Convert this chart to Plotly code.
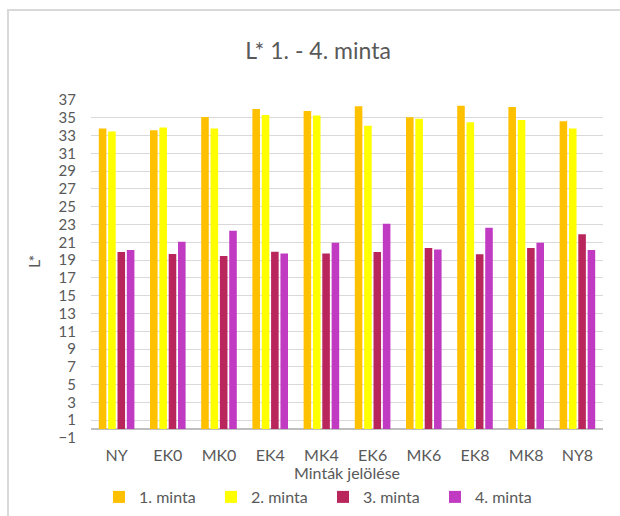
import plotly.graph_objects as go

categories = ["NY", "EK0", "MK0", "EK4", "MK4", "EK6", "MK6", "EK8", "MK8", "NY8"]
minta1 = [33.8, 33.6, 35.1, 36.0, 35.75, 36.3, 35.05, 36.35, 36.2, 34.6]
minta2 = [33.45, 33.9, 33.8, 35.3, 35.25, 34.1, 34.9, 34.5, 34.75, 33.8]
minta3 = [19.9, 19.7, 19.45, 19.95, 19.75, 19.9, 20.35, 19.65, 20.35, 21.9]
minta4 = [20.15, 21.05, 22.3, 19.75, 20.95, 23.1, 20.2, 22.65, 20.95, 20.15]
series_names = ["1. minta", "2. minta", "3. minta", "4. minta"]
colors = ["#FFC000", "#FFFF00", "#B8265C", "#C03BC2"]

FONT = "Lato"
TXT = "#595959"

fig = go.Figure()
for name, vals, col in zip(series_names, [minta1, minta2, minta3, minta4], colors):
    fig.add_trace(go.Bar(x=categories, y=vals, name=name,
                         marker=dict(color=col, line=dict(width=0))))

L, R, T, B = 91, 17, 100, 78
fig.update_layout(
    width=620, height=516,
    margin=dict(l=L, r=R, t=T, b=B, autoexpand=False),
    paper_bgcolor="white", plot_bgcolor="white",
    barmode="group", bargap=0.27, bargroupgap=0.19,
    font=dict(family=FONT, color=TXT, size=14),
    title=dict(text="L* 1. - 4. minta", x=318 / 620, xanchor="center",
               y=1 - 51 / 516, yanchor="middle",
               font=dict(family=FONT, size=23, color=TXT)),
    showlegend=True,
    legend=dict(orientation="h", x=(99 - L) / 512, xanchor="left",
                y=(438 - 497) / 338, yanchor="middle",
                font=dict(family=FONT, size=16, color=TXT),
                entrywidth=67, entrywidthmode="pixels",
                itemwidth=30, tracegroupgap=0, traceorder="normal"),
)
fig.update_yaxes(range=[-1, 37], tick0=-1, dtick=2, showgrid=True,
                 gridcolor="#d9d9d9", gridwidth=1,
                 zeroline=True, zerolinecolor="#bfbfbf", zerolinewidth=2,
                 showline=False, ticks="", ticklabelstandoff=14,
                 tickfont=dict(family=FONT, size=15, color=TXT))
fig.update_xaxes(showline=False, ticks="", showgrid=False,
                 ticklabelstandoff=6,
                 tickfont=dict(family=FONT, size=16, color=TXT))

fig.add_annotation(text="Minták jelölése", xref="paper", yref="paper",
                   x=0.5, y=(438 - 472) / 338, xanchor="center", yanchor="middle",
                   showarrow=False, font=dict(family=FONT, size=16, color=TXT))
fig.add_annotation(text="L*", xref="paper", yref="paper", textangle=-90,
                   x=(33 - L) / 512, y=(438 - 262) / 338, xanchor="center",
                   yanchor="middle", showarrow=False,
                   font=dict(family=FONT, size=16, color=TXT))

fig.add_shape(type="rect", xref="paper", yref="paper",
              x0=(8 - L) / 512, x1=(640 - L) / 512,
              y0=(438 - 540) / 338, y1=(438 - 10) / 338,
              line=dict(color="#d9d9d9", width=2), fillcolor="rgba(0,0,0,0)",
              layer="below")

fig.write_html("out.html", config={"displayModeBar": False},
               post_script="document.body.style.margin='0';document.body.style.overflow='hidden';")
